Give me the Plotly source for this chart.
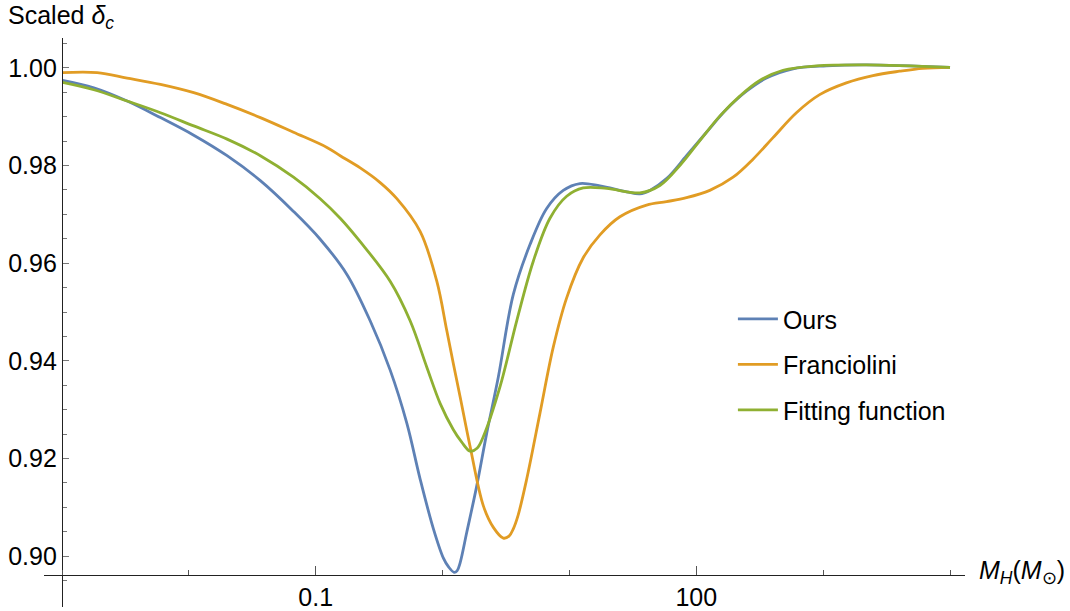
import plotly.graph_objects as go

# ---- data ----
ours_m = [0.00101, 0.00178, 0.00326, 0.00597, 0.01092, 0.0200, 0.0366, 0.0668, 0.1084,
          0.1761, 0.2685, 0.3862, 0.5229, 0.6653, 0.8466, 1.015, 1.115, 1.232, 1.300, 1.373, 1.551,
          1.859, 2.228, 2.750, 3.610, 4.887, 6.614, 8.939, 12.10, 17.39, 28.21, 35.91, 43.05,
          58.27, 83.71, 120.3, 172.9, 248.5, 357.1, 578.3, 1060, 2189, 10000]
ours_v = [0.9974, 0.9959, 0.9932, 0.9898, 0.9862, 0.9820, 0.9769, 0.9706, 0.9649,
          0.9577, 0.9482, 0.9381, 0.9272, 0.9158, 0.9056, 0.8996, 0.8978, 0.8967, 0.8970, 0.8986, 0.9049,
          0.9144, 0.9252, 0.9367, 0.9536, 0.9638, 0.9712, 0.9749, 0.9763, 0.9758, 0.9746, 0.9742, 0.9749,
          0.9773, 0.9820, 0.9868, 0.9915, 0.9952, 0.9979, 0.9998, 1.0004, 1.0006, 1.0001]

fran_m = [0.00101, 0.001893, 0.00326, 0.00597, 0.01092, 0.0200, 0.0366, 0.0668, 0.1225, 0.1559,
          0.2241, 0.3220, 0.4359, 0.6650, 0.9000, 1.079, 1.216, 1.373, 1.646, 2.096, 2.512,
          3.011, 3.339, 3.610, 3.930, 4.603, 5.857, 7.455, 9.506, 12.84, 17.39, 24.98, 40.55, 58.27,
          83.71, 127.7, 194.9, 280.0, 402.4, 615.2, 938.4, 1523, 2467, 4003, 6108, 10000]
fran_v = [0.9990, 0.9990, 0.9979, 0.9966, 0.9949, 0.9925, 0.9898, 0.9868, 0.9837, 0.9820,
          0.9795, 0.9765, 0.9732, 0.9665, 0.9563, 0.9462, 0.9394, 0.9327, 0.9225, 0.9103, 0.9059,
          0.9037, 0.9041, 0.9056, 0.9083, 0.9158, 0.9293, 0.9428, 0.9529, 0.9611, 0.9658, 0.9695, 0.9719, 0.9726,
          0.9734, 0.9749, 0.9776, 0.9813, 0.9857, 0.9908, 0.9945, 0.9969, 0.9984, 0.9993, 0.9999, 1.0001]

fit_m = [0.00101, 0.00178, 0.00326, 0.00597, 0.01092, 0.0200, 0.0366, 0.0668, 0.1084, 0.1559,
         0.2241, 0.3860, 0.5548, 0.7509, 0.9557, 1.216, 1.411, 1.646, 1.869, 2.096, 2.837,
         3.840, 5.188, 7.022, 9.506, 12.84, 19.63, 35.91, 51.60, 74.16, 106.6, 153.1, 220.1,
         316.2, 482.5, 884.3, 2189, 10000]
fit_v = [0.9970, 0.9955, 0.9932, 0.9908, 0.9881, 0.9854, 0.9820, 0.9776, 0.9732, 0.9692,
         0.9644, 0.9563, 0.9482, 0.9387, 0.9313, 0.9259, 0.9234, 0.9215, 0.9221, 0.9245, 0.9347,
         0.9482, 0.9604, 0.9692, 0.9737, 0.9754, 0.9753, 0.9744, 0.9759, 0.9800, 0.9851, 0.9901, 0.9942,
         0.9974, 0.9995, 1.0004, 1.0006, 1.0001]

series_names = ["Ours", "Franciolini", "Fitting function"]
colors = ["#5E81B5", "#E19C24", "#8FB032"]

x_major = [0.1, 100]
x_major_text = ["0.1", "100"]
x_minor = [0.001, 0.01, 1, 10, 1000, 10000]
y_major = [0.90, 0.92, 0.94, 0.96, 0.98, 1.00]
y_minor = [0.895, 0.905, 0.91, 0.915, 0.925, 0.93, 0.935, 0.945, 0.95, 0.955,
           0.965, 0.97, 0.975, 0.985, 0.99, 0.995, 1.005]

FONT = "Liberation Sans, Arial, sans-serif"
FS = 25

fig = go.Figure()
for i, (xs, ys) in enumerate([(ours_m, ours_v), (fran_m, fran_v), (fit_m, fit_v)]):
    fig.add_trace(go.Scatter(x=xs, y=ys, mode="lines", name=series_names[i],
                             legendgroup=series_names[i],
                             line=dict(color=colors[i], width=2.8, shape="spline", smoothing=1.0)))

fig.update_layout(
    width=1070, height=611,
    margin=dict(l=44, r=105, t=38, b=0),
    paper_bgcolor="white", plot_bgcolor="white",
    font=dict(family=FONT, size=FS, color="black"),
    showlegend=True,
    legend=dict(x=0.748, y=0.4258, xanchor="left", yanchor="middle",
                font=dict(size=FS), tracegroupgap=10, bgcolor="rgba(0,0,0,0)",
                itemwidth=40),
    xaxis=dict(type="log", range=[-3.142, 4.118], anchor="free", position=0.0564,
               showline=True, linecolor="#222", linewidth=1.2,
               ticks="inside", ticklen=9, tickwidth=1.2, tickcolor="#555",
               tickmode="array", tickvals=x_major, ticktext=x_major_text,
               minor=dict(tickmode="array", tickvals=x_minor, ticks="inside",
                          ticklen=5, tickwidth=1.2, tickcolor="#555", showgrid=False),
               showgrid=False, zeroline=False, tickfont=dict(size=FS)),
    yaxis=dict(range=[0.8896, 1.0061], anchor="free", position=0.0195,
               showline=True, linecolor="#222", linewidth=1.2,
               ticks="inside", ticklen=6, tickwidth=1.2, tickcolor="#777",
               tickmode="array", tickvals=y_major, tickformat=".2f",
               minor=dict(tickmode="array", tickvals=y_minor, ticks="inside",
                          ticklen=4, tickwidth=1.2, tickcolor="#777", showgrid=False),
               showgrid=False, zeroline=False, tickfont=dict(size=FS)),
    annotations=[
        dict(text="Scaled <i>δ</i><sub><i>c</i></sub>", xref="paper", yref="paper",
             x=-0.0413, y=1.0366, xanchor="left", yanchor="middle", showarrow=False,
             font=dict(size=FS)),
        dict(text="<i>M</i><sub><i>H</i></sub>(<i>M</i><sub>⊙</sub>)", xref="paper", yref="paper",
             x=1.0130, y=0.0611, xanchor="left", yanchor="middle", showarrow=False,
             font=dict(size=FS)),
    ],
)

fig.write_html("out.html", config={"displayModeBar": False},
               post_script="document.body.style.margin='0px';document.body.style.overflow='hidden';")
